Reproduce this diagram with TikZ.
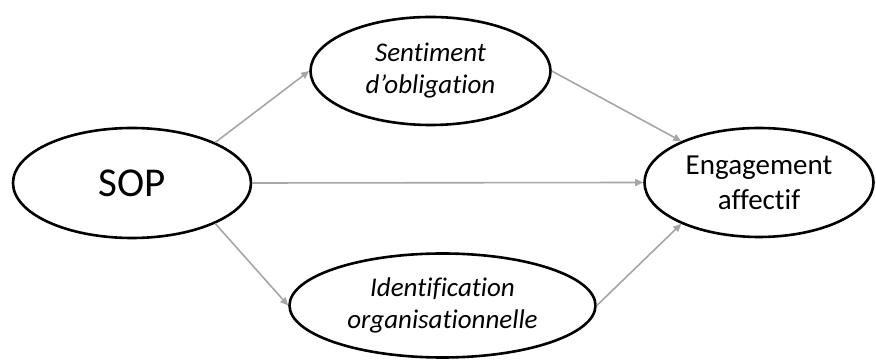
\documentclass[tikz,border=0pt]{standalone}
\usepackage{fontspec}
\setmainfont{Carlito}[Ligatures={NoCommon}]
\usetikzlibrary{shapes.geometric,arrows.meta}
\definecolor{linkgray}{HTML}{A6A6A6}
\tikzset{
  construct/.style={ellipse, draw=black, line width=2.6pt, inner sep=0pt, align=center},
  link/.style={draw=linkgray, line width=1.6pt, -{Triangle[length=8pt,width=7pt]}}
}
\begin{document}
\begin{tikzpicture}[x=1pt,y=1pt]
  \useasboundingbox (0,0) rectangle (876,361);
  % constructs
  \node[construct, minimum width=238pt, minimum height=110pt, font=\fontsize{41}{44}\selectfont]
    (sop) at (132,178) {SOP};
  \node[construct, minimum width=240pt, minimum height=108pt, font=\fontsize{27}{32}\selectfont\itshape]
    (oblig) at (430.5,290) {Sentiment\\d’obligation};
  \node[construct, minimum width=306pt, minimum height=104pt, font=\fontsize{27}{32}\selectfont\itshape]
    (ident) at (442.5,55.5) {Identification\\organisationnelle};
  \node[construct, minimum width=229pt, minimum height=109pt, font=\fontsize{29}{35}\selectfont]
    (engag) at (759,178.5) {Engagement\\affectif};
  % paths
  \draw[link] (sop.26) -- (oblig.180);
  \draw[link] (sop.east) -- (engag.west);
  \draw[link] (sop.-26) -- (ident.180);
  \draw[link] (oblig.0) -- (engag.152);
  \draw[link] (ident.0) -- (engag.208);
\end{tikzpicture}
\end{document}
